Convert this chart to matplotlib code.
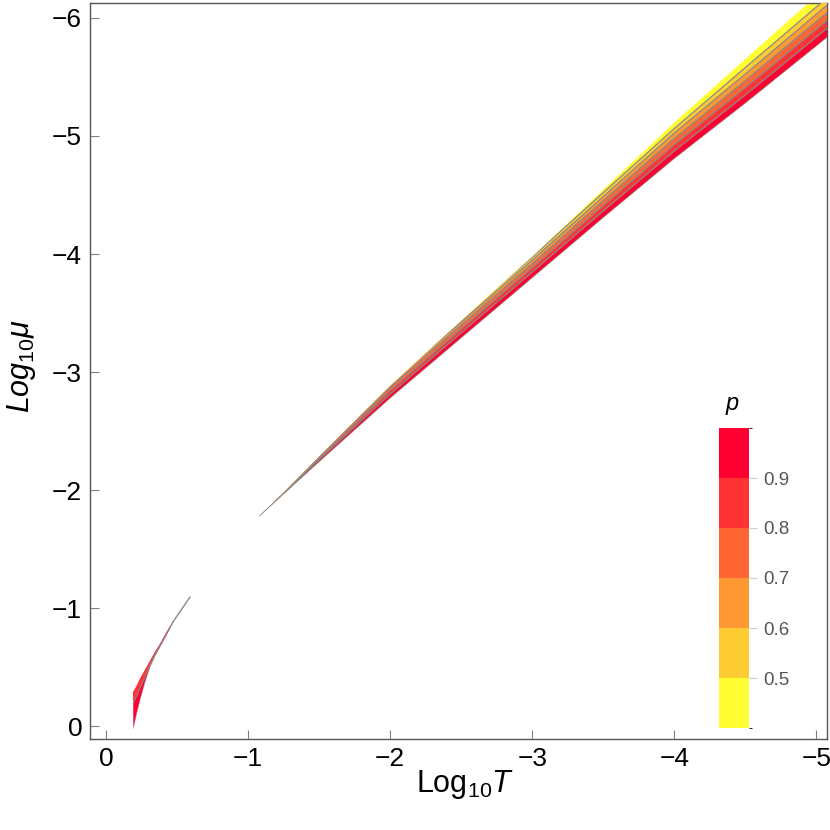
import matplotlib
matplotlib.use('Agg')
import matplotlib.pyplot as plt
import matplotlib.cm as cm
from matplotlib.patches import Polygon
from matplotlib.colors import ListedColormap, BoundaryNorm

plt.rcParams['font.family'] = ['Liberation Sans', 'DejaVu Sans']
plt.rcParams['mathtext.fontset'] = 'custom'
plt.rcParams['mathtext.rm'] = 'Liberation Sans'
plt.rcParams['mathtext.it'] = 'Liberation Sans:italic'
plt.rcParams['mathtext.bf'] = 'Liberation Sans:bold'

# ---------------- data ----------------
levels = [0.4, 0.5, 0.6, 0.7, 0.8, 0.9, 1.0]
level_colors = ['#FFFF33', '#FFCC33', '#FF9933', '#FF6633', '#FF3333', '#FF0033']
cbar_ticks = [0.5, 0.6, 0.7, 0.8, 0.9]
cbar_ticklabels = ['0.5', '0.6', '0.7', '0.8', '0.9']

x_ticks = [0, -1, -2, -3, -4, -5]
x_ticklabels = ['0', '\u22121', '\u22122', '\u22123', '\u22124', '\u22125']
y_ticks = [0, -1, -2, -3, -4, -5, -6]
y_ticklabels = ['0', '\u22121', '\u22122', '\u22123', '\u22124', '\u22125', '\u22126']

# main band (log10 T, log10 mu): edges and contour lines p = 0.5 ... 0.9
band_x = [-1.08, -1.25, -1.5, -2.0, -2.5, -3.0, -3.5, -4.0, -4.5, -5.15]
band_bottom = [-1.78, -1.967, -2.24, -2.78, -3.29, -3.80, -4.31, -4.81, -5.28, -5.91]
band_top = [-1.78, -1.9755, -2.2824, -2.8817, -3.4341, -3.978, -4.5473, -5.1151, -5.6529, -6.3507]
band_c09 = [-1.78, -1.9712, -2.2569, -2.8139, -3.3324, -3.8466, -4.3651, -4.8736, -5.3478, -5.9863]
band_c08 = [-1.78, -1.9755, -2.2697, -2.8436, -3.3663, -3.8847, -4.4117, -4.9286, -5.4114, -6.0541]
band_c07 = [-1.78, -1.9797, -2.2866, -2.8732, -3.4002, -3.9186, -4.4541, -4.9795, -5.4707, -6.1219]
band_c06 = [-1.78, -1.9839, -2.2993, -2.8986, -3.4256, -3.9483, -4.4880, -5.0261, -5.5258, -6.1854]
band_c05 = [-1.78, -1.9882, -2.3120, -2.9241, -3.4510, -3.9737, -4.5219, -5.0642, -5.5808, -6.2490]

# small piece at lower left
ll_x = [-0.1921, -0.2160, -0.2393, -0.2745, -0.3096, -0.3448, -0.3800, -0.4222, -0.4736]
ll_upper = [-0.2881, -0.3390, -0.3983, -0.4746, -0.5508, -0.6271, -0.6949, -0.7881, -0.8898]
ll_lower = [0.0195, -0.1076, -0.2203, -0.3729, -0.5000, -0.5932, -0.6695, -0.7627, -0.8814]
ll_c09 = [-0.1949, -0.2542, -0.3220, -0.4153, -0.5169, -0.6059, -0.6822, -0.7754, -0.8856]
tail_x = [-0.4736, -0.5911]
tail_y = [-0.8856, -1.0932]

# ---------------- figure ----------------
fig = plt.figure(figsize=(8.3, 8.3), dpi=100)
ax = fig.add_axes([0.109, 0.1096, 0.8874, 0.8868])
ax.set_xlim(0.109, -5.074)
ax.set_ylim(0.110, -6.127)

line_col = '#8a8a8a'

# main band
band_verts = list(zip(band_x, band_top)) + list(zip(band_x[::-1], band_bottom[::-1]))
band_patch = Polygon(band_verts, closed=True, facecolor=level_colors[0],
                     edgecolor='none', zorder=2)
ax.add_patch(band_patch)
contours = [band_c05, band_c06, band_c07, band_c08, band_c09]
for k, cy in enumerate(contours):
    poly = Polygon(list(zip(band_x, cy)) + list(zip(band_x[::-1], band_bottom[::-1])),
                   closed=True, facecolor=level_colors[k + 1], edgecolor='none', zorder=3)
    ax.add_patch(poly)
    poly.set_clip_path(band_patch)
for cy in contours:
    ln, = ax.plot(band_x, cy, color=line_col, lw=0.9, zorder=4)
    ln.set_clip_path(band_patch)
ax.plot(band_x, band_bottom, color=line_col, lw=0.6, alpha=0.8, zorder=4)

# lower-left piece
ll_patch = Polygon(list(zip(ll_x, ll_upper)) + list(zip(ll_x[::-1], ll_lower[::-1])),
                   closed=True, facecolor=level_colors[5], edgecolor='none', zorder=2)
ax.add_patch(ll_patch)
ll_strip = Polygon(list(zip(ll_x, ll_upper)) + list(zip(ll_x[::-1], ll_c09[::-1])),
                   closed=True, facecolor=level_colors[4], edgecolor='none', zorder=3)
ax.add_patch(ll_strip)
ax.plot(ll_x, ll_c09, color=line_col, lw=0.8, zorder=4)
ax.plot(ll_x, ll_lower, color=line_col, lw=0.5, alpha=0.7, zorder=4)
ax.plot(tail_x, tail_y, color=line_col, lw=1.0, zorder=4)

# axes styling
ax.set_xticks(x_ticks)
ax.set_xticklabels(x_ticklabels)
ax.set_yticks(y_ticks)
ax.set_yticklabels(y_ticklabels)
ax.tick_params(axis='both', direction='in', length=6.5, width=0.8, color='#808080',
               labelsize=19, labelcolor='black', top=False, right=False)
ax.tick_params(axis='x', pad=6)
ax.tick_params(axis='y', pad=6)
for s in ax.spines.values():
    s.set_color('#555555')
    s.set_linewidth(1.0)

fig.text(465 / 830, 1 - 784 / 830, r'$\mathrm{Log}_{10}T$', ha='center', va='center',
         fontsize=22)
fig.text(21 / 830, 1 - 366 / 830, r'$Log_{10}\mu$', ha='center', va='center',
         fontsize=22, rotation=90)

# colorbar legend
cax = fig.add_axes([719 / 830, (830 - 728) / 830, 30 / 830, 300 / 830])
cmap = ListedColormap(level_colors)
norm = BoundaryNorm(levels, cmap.N)
cb = fig.colorbar(cm.ScalarMappable(norm=norm, cmap=cmap), cax=cax, ticks=cbar_ticks)
cb.outline.set_visible(False)
cb.ax.set_yticklabels(cbar_ticklabels)
cax.tick_params(axis='y', length=6, width=0.8, color='#d0d0d0', labelcolor='#555555',
                labelsize=13.5, pad=4)
fig.text(732 / 830, 1 - 403 / 830, 'p', style='italic', fontsize=17,
         ha='center', va='center')

fig.savefig('out.png', dpi=100)
